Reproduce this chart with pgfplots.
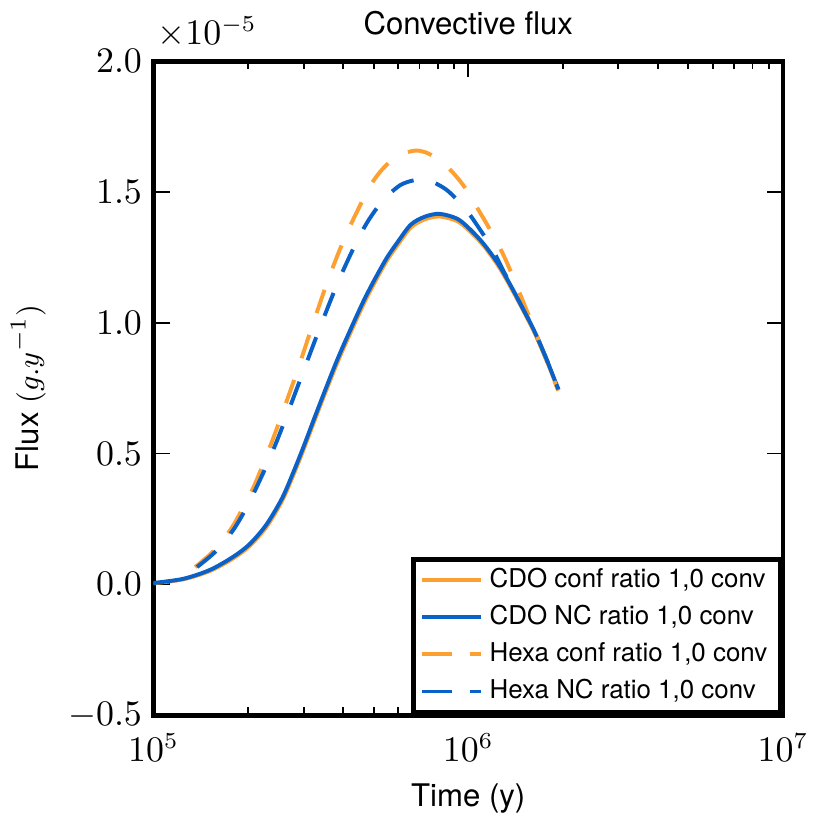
\documentclass[border=0pt]{standalone}
\usepackage{fontspec}
\setmainfont{TeX Gyre Heros}
\usepackage{pgfplots}
\pgfplotsset{compat=1.18}
\definecolor{mplorange}{RGB}{253,160,50}
\definecolor{mplblue}{RGB}{10,98,200}
\pgfplotsset{
  solidleg/.style={legend image code/.code={\draw[##1] (0pt,0pt) -- (12.7pt,0pt); \path (0pt,0pt) -- (18pt,0pt);}},
  dashleg/.style={legend image code/.code={\draw[##1,solid] (0.6pt,0pt) -- (9pt,0pt); \path (0pt,0pt) -- (18pt,0pt);}},
}

\begin{document}
\begin{tikzpicture}
\begin{axis}[
  scale only axis,
  width=192pt, height=199.5pt,
  xmode=log,
  xmin=1e5, xmax=1e7,
  ymin=-0.5e-5, ymax=2.0e-5,
  ytick={-0.5e-5,0,0.5e-5,1.0e-5,1.5e-5,2.0e-5},
  scaled y ticks=base 10:5,
  ytick scale label code/.code={$\times 10^{#1}$},
  every y tick scale label/.style={at={(rel axis cs:0,1)},anchor=south west,inner sep=0pt,xshift=1pt,yshift=4pt,font=\fontsize{10.6}{12}\selectfont},
  yticklabel style={/pgf/number format/fixed,/pgf/number format/fixed zerofill,/pgf/number format/precision=1},
  tick label style={font=\fontsize{10.6}{12}\selectfont},
  xticklabel style={yshift=-2pt},
  tick align=inside,
  xtick pos=both, ytick pos=both,
  major tick length=5pt, minor tick length=2.5pt,
  every tick/.style={black,line width=0.6pt},
  axis line style={line width=1.5pt},
  title={Convective flux},
  every axis title shift=0pt,
  title style={at={(0.5,1)},anchor=south,yshift=4.5pt,font=\fontsize{9.5}{11}\selectfont},
  xlabel={Time (y)},
  ylabel={Flux $(g.y^{-1})$},
  label style={font=\fontsize{9.5}{11}\selectfont},
  legend style={at={(1,0)},anchor=south east,draw=black,line width=1.5pt,
    font=\fontsize{7.9}{9}\selectfont,row sep=0pt,inner xsep=2pt,inner ysep=0.8pt,
    nodes={text height=6pt,text depth=1.7pt,inner ysep=1.8pt}},
  legend cell align=left,
]
% CDO conf ratio 1,0 conv
\addplot[mplorange,line width=1.2pt,smooth,solidleg] coordinates {
  (1.000e5,0.004e-5)(1.243e5,0.019e-5)(1.511e5,0.051e-5)(1.785e5,0.098e-5)
  (2.018e5,0.146e-5)(2.283e5,0.219e-5)(2.564e5,0.320e-5)(2.796e5,0.424e-5)
  (3.006e5,0.519e-5)(3.255e5,0.629e-5)(3.526e5,0.737e-5)(3.786e5,0.830e-5)
  (4.076e5,0.920e-5)(4.710e5,1.085e-5)(5.443e5,1.226e-5)(5.981e5,1.299e-5)
  (6.571e5,1.364e-5)(7.271e5,1.395e-5)(8.107e5,1.406e-5)(9.235e5,1.388e-5)
  (1.015e6,1.348e-5)(1.123e6,1.292e-5)(1.260e6,1.208e-5)(1.426e6,1.093e-5)
  (1.613e6,0.969e-5)(1.772e6,0.857e-5)(1.933e6,0.742e-5)};
% CDO NC ratio 1,0 conv
\addplot[mplblue,line width=1.2pt,smooth,solidleg] coordinates {
  (1.000e5,0.005e-5)(1.243e5,0.021e-5)(1.511e5,0.055e-5)(1.785e5,0.104e-5)
  (2.018e5,0.153e-5)(2.283e5,0.228e-5)(2.564e5,0.330e-5)(2.796e5,0.435e-5)
  (3.006e5,0.530e-5)(3.255e5,0.640e-5)(3.526e5,0.748e-5)(3.786e5,0.842e-5)
  (4.076e5,0.932e-5)(4.710e5,1.097e-5)(5.443e5,1.237e-5)(5.981e5,1.310e-5)
  (6.571e5,1.375e-5)(7.271e5,1.405e-5)(8.107e5,1.416e-5)(9.235e5,1.397e-5)
  (1.015e6,1.356e-5)(1.123e6,1.299e-5)(1.260e6,1.215e-5)(1.426e6,1.099e-5)
  (1.613e6,0.974e-5)(1.772e6,0.861e-5)(1.933e6,0.745e-5)};
% Hexa conf ratio 1,0 conv
\addplot[mplorange,line width=1.2pt,smooth,dash pattern=on 7.5pt off 7pt,dashleg] coordinates {
  (1.356e5,0.066e-5)(1.544e5,0.125e-5)(1.759e5,0.210e-5)(1.919e5,0.290e-5)
  (2.094e5,0.380e-5)(2.299e5,0.500e-5)(2.472e5,0.600e-5)(2.837e5,0.802e-5)
  (3.185e5,0.983e-5)(3.603e5,1.170e-5)(4.104e5,1.340e-5)(4.812e5,1.509e-5)
  (5.250e5,1.577e-5)(5.768e5,1.625e-5)(6.291e5,1.648e-5)(6.812e5,1.658e-5)
  (7.323e5,1.651e-5)(7.989e5,1.627e-5)(8.715e5,1.588e-5)(9.714e5,1.520e-5)
  (1.091e6,1.420e-5)(1.173e6,1.355e-5)(1.298e6,1.255e-5)(1.426e6,1.140e-5)
  (1.590e6,1.000e-5)(1.734e6,0.885e-5)(1.838e6,0.805e-5)(1.933e6,0.740e-5)};
% Hexa NC ratio 1,0 conv
\addplot[mplblue,line width=1.2pt,smooth,dash pattern=on 7.5pt off 7pt,dashleg] coordinates {
  (1.375e5,0.066e-5)(1.567e5,0.123e-5)(1.785e5,0.205e-5)(1.947e5,0.280e-5)
  (2.123e5,0.370e-5)(2.333e5,0.478e-5)(2.564e5,0.600e-5)(2.963e5,0.800e-5)
  (3.400e5,0.990e-5)(3.873e5,1.160e-5)(4.381e5,1.300e-5)(4.812e5,1.390e-5)
  (5.365e5,1.468e-5)(6.067e5,1.525e-5)(6.763e5,1.545e-5)(7.430e5,1.546e-5)
  (8.590e5,1.505e-5)(9.928e5,1.425e-5)(1.091e6,1.355e-5)(1.190e6,1.285e-5)
  (1.260e6,1.225e-5)(1.426e6,1.099e-5)(1.613e6,0.974e-5)(1.772e6,0.861e-5)
  (1.933e6,0.745e-5)};
\legend{{CDO conf ratio 1,0 conv},{CDO NC ratio 1,0 conv},{Hexa conf ratio 1,0 conv},{Hexa NC ratio 1,0 conv}}
\end{axis}
\end{tikzpicture}
\end{document}
